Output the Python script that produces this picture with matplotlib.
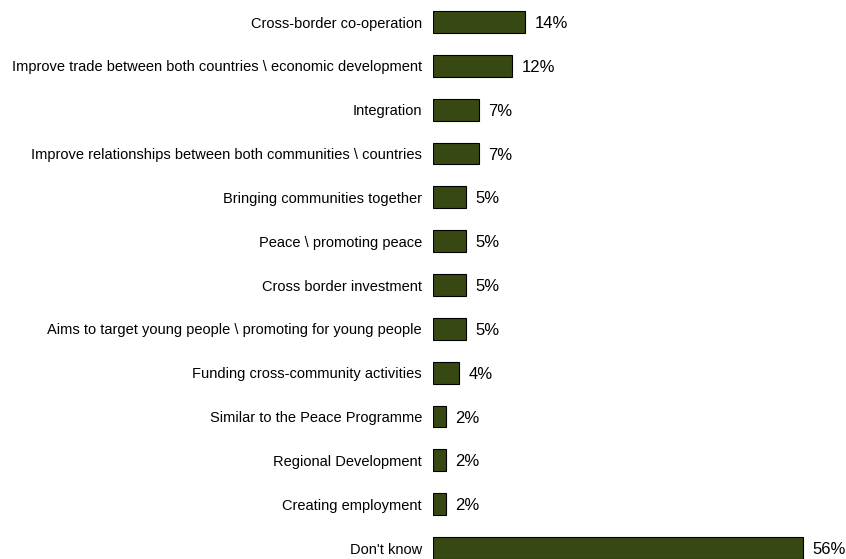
import matplotlib.pyplot as plt

# 項目名と割合(%)
labels = [
    "Cross-border co-operation",
    "Improve trade between both countries \\ economic development",
    "Integration",
    "Improve relationships between both communities \\ countries",
    "Bringing communities together",
    "Peace \\ promoting peace",
    "Cross border investment",
    "Aims to target young people \\ promoting for young people",
    "Funding cross-community activities",
    "Similar to the Peace Programme",
    "Regional Development",
    "Creating employment",
    "Don't know",
]
values = [14, 12, 7, 7, 5, 5, 5, 5, 4, 2, 2, 2, 56]

plt.rcParams['font.family'] = ['Liberation Sans', 'DejaVu Sans']

fig = plt.figure(figsize=(8.46, 5.59), dpi=100)
ax = fig.add_axes([433 / 846, 0, 396.4 / 846, 1])

y = list(range(len(values)))
ax.barh(y, values, height=0.5, color='#384813', edgecolor='black', linewidth=0.8)

ax.set_xlim(0, 60)
ax.set_ylim(12.25, -0.502)

# 値ラベル（少し大きめ）
for i, v in zip(y, values):
    ax.annotate('%d%%' % v, (v, i), xytext=(6.5, 0), textcoords='offset points',
                va='center_baseline', ha='left', fontsize=12)

# 項目ラベル
ax.set_yticks(y)
ax.set_yticklabels(labels, fontsize=10.5, va='center_baseline')
ax.tick_params(axis='y', length=0, pad=8)
ax.set_xticks([])
for s in ax.spines.values():
    s.set_visible(False)

plt.savefig('out.png', dpi=100)
